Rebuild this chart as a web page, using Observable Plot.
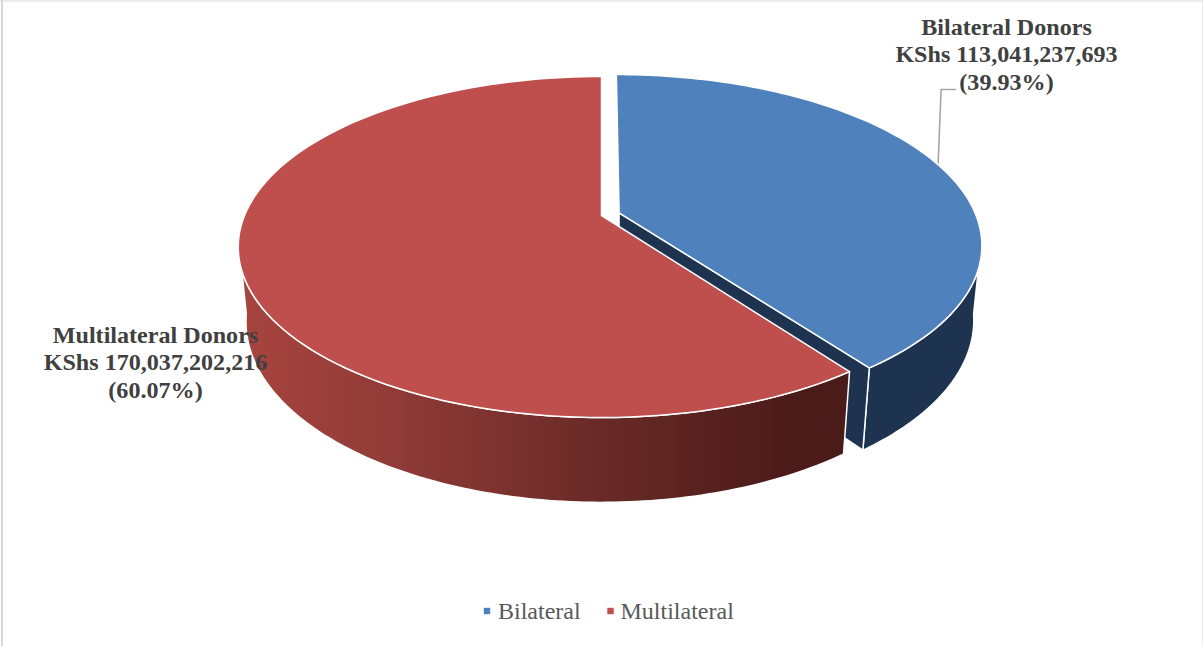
<!DOCTYPE html>
<html>
<head>
<meta charset="utf-8">
<script src="https://cdn.jsdelivr.net/npm/d3@7"></script>
<script src="https://cdn.jsdelivr.net/npm/@observablehq/plot@0.6"></script>
<style>
html,body{margin:0;padding:0;background:#fff;overflow:hidden}
svg{display:block}
</style>
</head>
<body>
<div id="chart"></div>
<script>
const categories = ["Bilateral", "Multilateral"];
const values = [113041237693, 170037202216];
const colors = ["#4f81bd", "#bf4f4c"];
const labels = [
  "Bilateral Donors\nKShs 113,041,237,693\n(39.93%)",
  "Multilateral Donors\nKShs 170,037,202,216\n(60.07%)"
];
const labelAnchors = [[1006, 53], [155, 361]];

const W = 1203, H = 646;
// Perspective view of the pie: centre, radii, tilt, depth
const cx = 601, cy = 215, R = 357, S = 164.7, k = 0.1848, depthW = 0.021, depthH = 75.2, explode = 0.052;
const total = d3.sum(values);
const split = values[0] / total * 2 * Math.PI;
const mid = split / 2;
const off = [explode * Math.sin(mid), explode * Math.cos(mid)];

function project(u, v, bottom) {
  const w = 1 + k * v + (bottom ? depthW : 0);
  return {x: cx + R * u / w, y: cy + (-S * v + (bottom ? depthH : 0)) / w};
}
const rim = (a, o, bottom) => project(Math.sin(a) + o[0], Math.cos(a) + o[1], bottom);
const centre = (o, bottom) => project(o[0], o[1], bottom);
const arc = (a0, a1, o, bottom) => d3.range(0, 121).map(i => rim(a0 + (a1 - a0) * i / 120, o, bottom));
const close = (pts, name) => [...pts, pts[0]].map(p => ({...p, name}));
const none = [0, 0];
const deg = d => d * Math.PI / 180;

const blueTop = close([centre(off), ...arc(0, split, off)], categories[0]);
const redTop = close([centre(none), ...arc(split, 2 * Math.PI, none)], categories[1]);
const blueOuter = close([...arc(deg(99), split, off), ...arc(split, deg(99), off, true)], "w");
const blueCut = close([centre(off), rim(split, off), rim(split, off, true), centre(off, true)], "w");
const redOuter = close([...arc(split, deg(262), none), ...arc(deg(262), split, none, true)], "w");

const leaderEnd = rim(mid, off);
const labelLeft = labelAnchors[0][0] - 51;
const leaderY = labelAnchors[0][1] + 36;
const leader = [leaderEnd, {x: leaderEnd.x + 3, y: leaderY}, {x: labelLeft, y: leaderY}];

const labelData = labels.map((text, i) => ({text, x: labelAnchors[i][0], y: labelAnchors[i][1]}));
const legendY = 610.5;
const legend = [
  {name: categories[0], sx: 486.5, tx: 497.5},
  {name: categories[1], sx: 610, tx: 620}
];

const gradient = () => {
  const defs = d3.create("svg:defs");
  const g = defs.append("linearGradient").attr("id", "redWall")
    .attr("gradientUnits", "userSpaceOnUse")
    .attr("x1", 240).attr("x2", 790).attr("y1", 0).attr("y2", 0);
  [[0, "#a8443f"], [0.3, "#8e3a36"], [0.65, "#692a27"], [1, "#4b1b19"]]
    .forEach(([o, c]) => g.append("stop").attr("offset", o).attr("stop-color", c));
  return defs.node();
};

const wall = (data, fill) => Plot.line(data, {x: "x", y: "y", fill, stroke: "#fff", strokeWidth: 1.5, curve: "linear"});

const plot = Plot.plot({
  width: W, height: H, margin: 0,
  style: {background: "#fff", overflow: "hidden"},
  x: {domain: [0, W], range: [0, W], axis: null},
  y: {domain: [0, H], range: [0, H], axis: null},
  color: {domain: categories, range: colors},
  marks: [
    gradient,
    Plot.ruleX([1.5], {stroke: "#d9d9d9", strokeWidth: 2}),
    Plot.ruleX([1202.5], {stroke: "#d9d9d9", strokeWidth: 1}),
    Plot.ruleY([0.5], {stroke: "#d9d9d9", strokeWidth: 1}),
    Plot.line(leader, {x: "x", y: "y", stroke: "#a6a6a6", strokeWidth: 1.6, curve: "linear"}),
    wall(blueOuter, "#1d3350"),
    wall(blueCut, "#1d3350"),
    Plot.line(blueTop, {x: "x", y: "y", fill: "name", stroke: "#fff", strokeWidth: 1.5, curve: "linear"}),
    wall(redOuter, "url(#redWall)"),
    Plot.line(redTop, {x: "x", y: "y", fill: "name", stroke: "#fff", strokeWidth: 1.5, curve: "linear"}),
    Plot.text(labelData, {
      x: "x", y: "y", text: "text", fontFamily: "Liberation Serif", fontWeight: "bold",
      fontSize: 24.1, lineHeight: 1.15, fill: "#404040", textAnchor: "middle", lineAnchor: "middle"
    }),
    Plot.dot(legend, {x: "sx", y: () => legendY, symbol: "square", r: 3.6, fill: "name", stroke: "none"}),
    Plot.text(legend, {
      x: "tx", y: () => legendY, text: "name", fontFamily: "Liberation Serif",
      fontSize: 24, fill: "#595959", textAnchor: "start", lineAnchor: "middle"
    })
  ]
});
document.getElementById("chart").append(plot);
</script>
</body>
</html>
